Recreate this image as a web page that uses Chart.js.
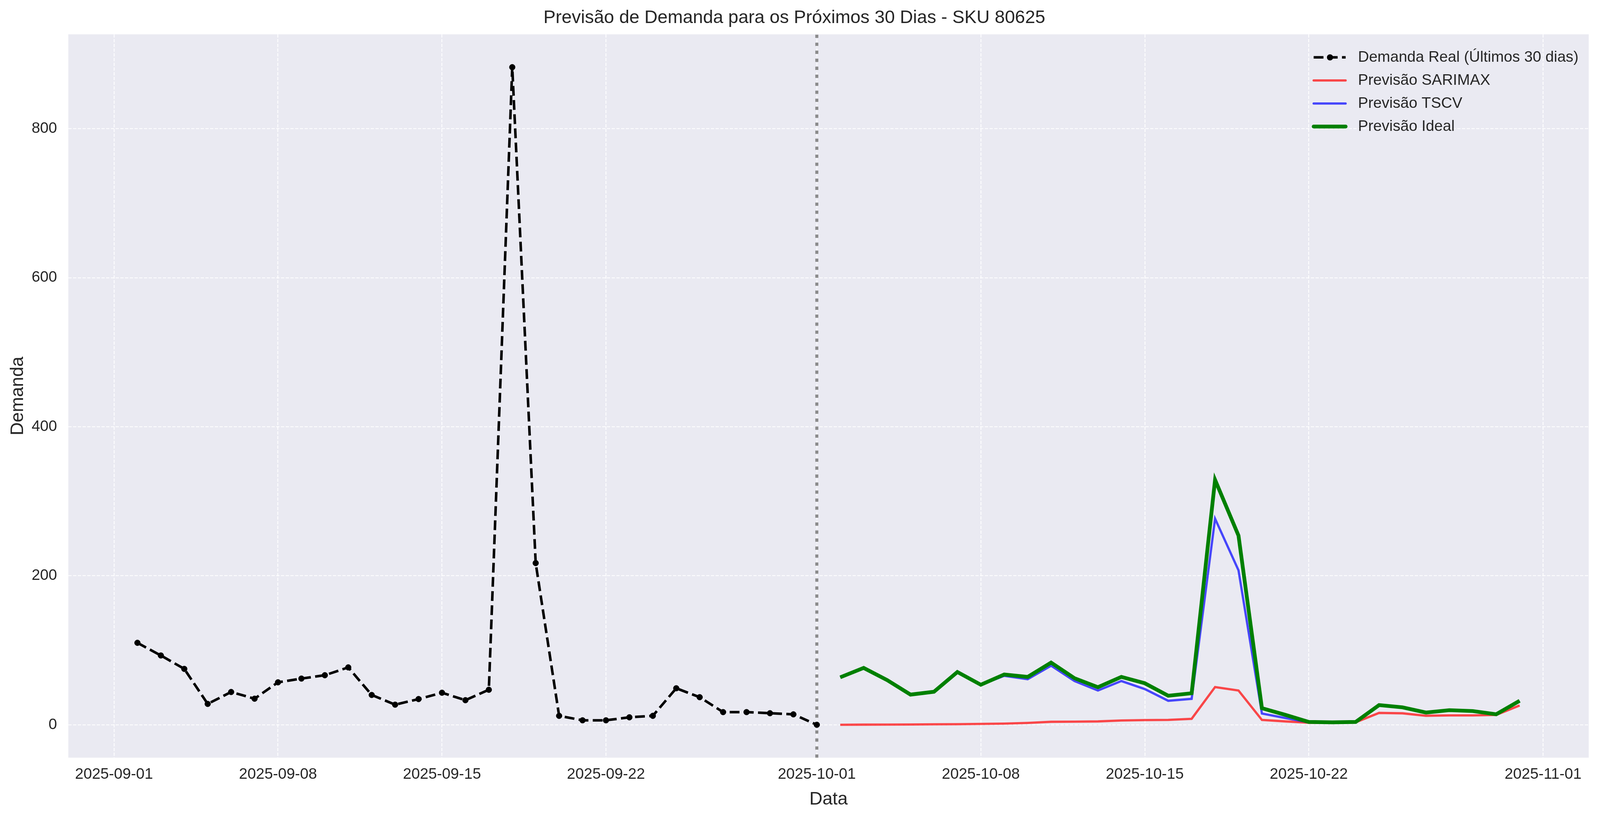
<!DOCTYPE html>
<html>
<head>
<meta charset="utf-8">
<script src="https://cdn.jsdelivr.net/npm/chart.js@4.4.1/dist/chart.umd.min.js"></script>
<style>
  html, body { margin: 0; padding: 0; background: #fff; overflow: hidden; }
  canvas { display: block; }
</style>
</head>
<body>
<canvas id="forecastChart"></canvas>
<script>
// Demanda real (últimos 30 dias)
const realDates = [
  '2025-09-02', '2025-09-03', '2025-09-04', '2025-09-05', '2025-09-06', '2025-09-07',
  '2025-09-08', '2025-09-09', '2025-09-10', '2025-09-11', '2025-09-12', '2025-09-13',
  '2025-09-14', '2025-09-15', '2025-09-16', '2025-09-17', '2025-09-18', '2025-09-19',
  '2025-09-20', '2025-09-21', '2025-09-22', '2025-09-23', '2025-09-24', '2025-09-25',
  '2025-09-26', '2025-09-27', '2025-09-28', '2025-09-29', '2025-09-30', '2025-10-01'
];
const realDemand = [
  110, 93, 75, 28, 44, 35,
  57, 62, 66.5, 77, 40, 27,
  34.5, 43, 33, 47, 882.5, 217,
  12, 6, 6, 10, 12, 49,
  37, 17, 17, 15.5, 14, 0
];

// Previsões (próximos 30 dias)
const forecastDates = [
  '2025-10-02', '2025-10-03', '2025-10-04', '2025-10-05', '2025-10-06', '2025-10-07',
  '2025-10-08', '2025-10-09', '2025-10-10', '2025-10-11', '2025-10-12', '2025-10-13',
  '2025-10-14', '2025-10-15', '2025-10-16', '2025-10-17', '2025-10-18', '2025-10-19',
  '2025-10-20', '2025-10-21', '2025-10-22', '2025-10-23', '2025-10-24', '2025-10-25',
  '2025-10-26', '2025-10-27', '2025-10-28', '2025-10-29', '2025-10-30', '2025-10-31'
];
const sarimaxForecast = [
  0, 0.2, 0.3, 0.4, 0.6, 0.8,
  1.2, 1.6, 2.5, 4, 4.2, 4.5,
  5.8, 6.3, 6.5, 8, 50.6, 46,
  6.5, 4.5, 2.8, 2.5, 3.3, 15.9,
  15.4, 12.1, 12.6, 12.6, 13.3, 25.9
];
const tscvForecast = [
  63.7, 76.3, 60, 40.5, 44.3, 70.8,
  53.7, 65.7, 61.2, 79.3, 58.7, 46,
  58.7, 47.9, 32.2, 34.8, 276.6, 207.3,
  15.1, 9, 3.3, 3.3, 3.8, 26.4,
  23.4, 16.4, 19.6, 18.4, 14.1, 32.2
];
const idealForecast = [
  63.7, 76.3, 60, 40.5, 44.3, 70.8,
  53.7, 67.5, 64.2, 83.4, 62.5, 50.4,
  64.2, 55.7, 39, 42.3, 328.7, 253.9,
  22.2, 13.3, 3.8, 3.3, 3.8, 26.4,
  23.4, 16.4, 19.6, 18.4, 14.1, 32.2
];

const cutoffDate = '2025-10-01';
const xTickLabels = [
  '2025-09-01', '2025-09-08', '2025-09-15', '2025-09-22', '2025-10-01',
  '2025-10-08', '2025-10-15', '2025-10-22', '2025-11-01'
];
const yTickValues = [0, 200, 400, 600, 800];

const FONT = '"Liberation Sans", Arial, sans-serif';
const TEXT = '#262626';

// tudo desenhado relativo a uma figura de 4403x2096
const W = window.innerWidth, H = window.innerHeight;
const sx = W / 4403, sy = H / 2096, sf = Math.min(sx, sy);
const px = v => v * sx, py = v => v * sy, pf = v => v * sf;

const canvas = document.getElementById('forecastChart');
canvas.width = W;
canvas.height = H;
canvas.style.width = W + 'px';
canvas.style.height = H + 'px';

function toMs(s) {
  return Date.parse(s + 'T00:00:00Z');
}

function points(dates, values) {
  return dates.map((d, i) => ({ x: toMs(d), y: values[i] }));
}

// limites com margem de 5% (como o matplotlib)
const allX = realDates.concat(forecastDates).map(toMs);
const xLo = Math.min(...allX), xHi = Math.max(...allX);
const allY = realDemand.concat(sarimaxForecast, tscvForecast, idealForecast);
const yLo = Math.min(...allY), yHi = Math.max(...allY);
const xMin = xLo - (xHi - xLo) * 0.05, xMax = xHi + (xHi - xLo) * 0.05;
const yMin = yLo - (yHi - yLo) * 0.05, yMax = yHi + (yHi - yLo) * 0.05;

const legendItems = [
  { label: 'Demanda Real (Últimos 30 dias)', color: '#000', width: 7, dash: [27, 12], marker: true },
  { label: 'Previsão SARIMAX', color: 'rgba(255,0,0,0.7)', width: 6.25, dash: [] },
  { label: 'Previsão TSCV', color: 'rgba(0,0,255,0.7)', width: 6.25, dash: [] },
  { label: 'Previsão Ideal', color: '#008000', width: 10.4, dash: [] }
];

const plotStyle = {
  id: 'plotStyle',
  beforeDraw(chart) {
    const { ctx, chartArea: a } = chart;
    ctx.save();
    ctx.fillStyle = '#fff';
    ctx.fillRect(0, 0, chart.width, chart.height);
    ctx.fillStyle = '#EAEAF2';
    ctx.fillRect(a.left, a.top, a.right - a.left, a.bottom - a.top);
    ctx.restore();
  },
  beforeDatasetsDraw(chart) {
    const { ctx, chartArea: a } = chart;
    const x = chart.scales.x.getPixelForValue(toMs(cutoffDate));
    ctx.save();
    ctx.strokeStyle = 'rgba(128,128,128,0.9)';
    ctx.lineWidth = pf(8.3);
    ctx.setLineDash([pf(9), pf(13)]);
    ctx.beginPath();
    ctx.moveTo(x, a.bottom);
    ctx.lineTo(x, a.top);
    ctx.stroke();
    ctx.restore();
  },
  afterDatasetsDraw(chart) {
    const { ctx, chartArea: a } = chart;
    const x0 = a.right - px(757);
    ctx.save();
    ctx.font = pf(42) + 'px ' + FONT;
    ctx.textBaseline = 'middle';
    ctx.textAlign = 'left';
    legendItems.forEach((it, i) => {
      const y = a.top + py(59 + i * 59);
      ctx.strokeStyle = it.color;
      ctx.lineWidth = pf(it.width);
      ctx.setLineDash(it.dash.map(pf));
      ctx.lineCap = it.dash.length ? 'butt' : 'round';
      ctx.beginPath();
      ctx.moveTo(x0, y);
      ctx.lineTo(x0 + px(88), y);
      ctx.stroke();
      if (it.marker) {
        ctx.setLineDash([]);
        ctx.fillStyle = it.color;
        ctx.beginPath();
        ctx.arc(x0 + px(45), y, pf(8.5), 0, Math.PI * 2);
        ctx.fill();
      }
      ctx.fillStyle = TEXT;
      ctx.fillText(it.label, x0 + px(122), y);
    });
    ctx.restore();
  }
};

const chart = new Chart(canvas.getContext('2d'), {
  type: 'line',
  data: {
    datasets: [
      {
        label: 'Demanda Real (Últimos 30 dias)',
        data: points(realDates, realDemand),
        borderColor: '#000',
        backgroundColor: '#000',
        borderWidth: pf(7),
        borderDash: [pf(27), pf(12)],
        pointRadius: pf(8),
        pointBorderWidth: pf(1),
        pointBackgroundColor: '#000',
        pointBorderColor: '#000',
        tension: 0,
        order: 3
      },
      {
        label: 'Previsão SARIMAX',
        data: points(forecastDates, sarimaxForecast),
        borderColor: 'rgba(255,0,0,0.7)',
        borderWidth: pf(6.25),
        pointRadius: 0,
        tension: 0,
        order: 2
      },
      {
        label: 'Previsão TSCV',
        data: points(forecastDates, tscvForecast),
        borderColor: 'rgba(0,0,255,0.7)',
        borderWidth: pf(6.25),
        pointRadius: 0,
        tension: 0,
        order: 1
      },
      {
        label: 'Previsão Ideal',
        data: points(forecastDates, idealForecast),
        borderColor: '#008000',
        borderWidth: pf(10.4),
        pointRadius: 0,
        tension: 0,
        order: 0
      }
    ]
  },
  options: {
    responsive: false,
    animation: false,
    layout: { padding: { left: 0, right: px(31), top: 0, bottom: 0 } },
    plugins: {
      legend: { display: false },
      tooltip: { enabled: false },
      title: {
        display: true,
        text: 'Previsão de Demanda para os Próximos 30 Dias - SKU 80625',
        color: TEXT,
        font: { family: FONT, size: pf(50), weight: 'normal' },
        padding: { top: py(18), bottom: py(14) }
      }
    },
    scales: {
      x: {
        type: 'linear',
        min: xMin,
        max: xMax,
        afterBuildTicks: s => { s.ticks = xTickLabels.map(t => ({ value: toMs(t) })); },
        afterFit: s => { s.height = py(157); },
        ticks: {
          autoSkip: false,
          maxRotation: 0,
          minRotation: 0,
          padding: py(20),
          color: TEXT,
          font: { family: FONT, size: pf(42) },
          callback: v => new Date(v).toISOString().slice(0, 10)
        },
        grid: { color: 'rgba(255,255,255,0.9)', lineWidth: pf(2.5), drawTicks: false },
        border: { display: false, dash: [pf(9), pf(4)] },
        title: {
          display: true,
          text: 'Data',
          color: TEXT,
          font: { family: FONT, size: pf(50) },
          padding: { top: 0, bottom: py(22) }
        }
      },
      y: {
        type: 'linear',
        min: yMin,
        max: yMax,
        afterBuildTicks: s => { s.ticks = yTickValues.map(v => ({ value: v })); },
        afterFit: s => { s.width = px(188); },
        ticks: {
          padding: px(31),
          color: TEXT,
          font: { family: FONT, size: pf(42) }
        },
        grid: { color: 'rgba(255,255,255,0.9)', lineWidth: pf(2.5), drawTicks: false },
        border: { display: false, dash: [pf(9), pf(4)] },
        title: {
          display: true,
          text: 'Demanda',
          color: TEXT,
          font: { family: FONT, size: pf(50) },
          padding: { top: px(20), bottom: 0 }
        }
      }
    }
  },
  plugins: [plotStyle]
});
</script>
</body>
</html>
